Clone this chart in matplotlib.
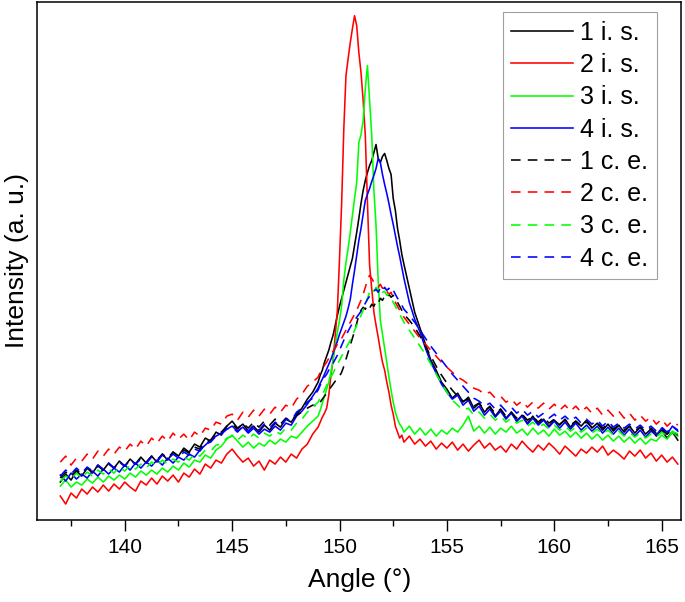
import numpy as np
import matplotlib
matplotlib.use("Agg")
import matplotlib.pyplot as plt
from matplotlib.ticker import MultipleLocator

plt.rcParams['font.family'] = ['Liberation Sans', 'DejaVu Sans']

# =========================
# DATA (intensity in arbitrary units)
# =========================
# sampling grid: coarse in the wings, finer around the peak
angle = np.round(np.concatenate([
    np.arange(137.0, 149.0, 0.25),
    np.arange(149.0, 153.0, 0.1),
    np.arange(153.0, 165.8, 0.25),
]), 2)

labels = ["1 i. s.", "2 i. s.", "3 i. s.", "4 i. s.",
          "1 c. e.", "2 c. e.", "3 c. e.", "4 c. e."]
colors = ["#000000", "#ff0000", "#00ff00", "#0000ff"] * 2

is1 = [38, 46, 40, 49, 44, 52, 47, 55, 50, 57, 52, 59, 54, 61, 56, 63, 57, 64, 58, 66,
       60, 68, 64, 72, 68, 76, 73, 82, 79, 88, 85, 94, 99, 92, 96, 89, 94, 88, 95, 90,
       97, 93, 101, 98, 106, 112, 121, 128,
       138, 145, 150, 158, 164, 170, 178, 185, 195, 205, 214, 222, 230, 238, 246, 254,
       262, 275, 288, 302, 317, 330, 340, 348, 355, 360, 368, 376, 362, 358, 364, 367,
       360, 352, 346, 322, 310, 292, 280, 266,
       256, 232, 208, 192, 176, 160, 150, 138, 131, 122, 127, 118, 123, 112, 117, 108,
       114, 104, 111, 102, 108, 99, 105, 97, 104, 96, 101, 94, 100, 95, 101, 93,
       99, 94, 100, 92, 97, 90, 96, 89, 95, 88, 94, 87, 93, 86, 91, 84, 90, 82, 88, 80]

is2 = [24, 16, 27, 22, 31, 26, 33, 28, 35, 29, 36, 31, 38, 33, 29, 39, 35, 42, 36, 44,
       39, 45, 38, 47, 43, 51, 46, 56, 52, 60, 57, 66, 71, 64, 58, 62, 54, 59, 50, 60,
       56, 63, 58, 66, 62, 71, 76, 86,
       93, 98, 103, 107, 112, 125, 145, 160, 185, 210, 262, 318, 392, 445, 462, 478,
       492, 505, 495, 468, 448, 420, 385, 318, 255, 232, 208, 195, 183, 170, 158, 150,
       138, 128, 115, 106, 94, 88, 82, 85,
       78, 84, 76, 81, 74, 79, 71, 77, 72, 78, 70, 76, 69, 75, 80, 72, 77, 70, 74, 68,
       76, 71, 79, 73, 68, 75, 70, 77, 72, 66, 74, 69, 64, 71, 67, 73, 68, 74, 65, 70,
       66, 61, 69, 64, 70, 62, 67, 59, 65, 58, 63, 56]

is3 = [34, 40, 33, 38, 35, 41, 37, 43, 38, 44, 40, 45, 41, 47, 43, 49, 45, 50, 46, 52,
       48, 54, 50, 57, 53, 60, 58, 65, 62, 70, 74, 81, 85, 79, 73, 78, 72, 77, 74, 80,
       76, 81, 78, 84, 82, 88, 94, 99,
       104, 110, 117, 124, 131, 138, 148, 160, 175, 188, 200, 215, 240, 258, 272, 288,
       305, 322, 338, 378, 386, 400, 432, 455, 420, 385, 330, 295, 240, 200, 186, 172,
       158, 143, 130, 118, 108, 101, 96, 93,
       88, 94, 86, 92, 85, 91, 84, 90, 86, 92, 88, 95, 104, 89, 94, 87, 93, 86, 92, 88,
       94, 87, 91, 85, 92, 86, 90, 84, 91, 85, 89, 83, 88, 82, 87, 81, 86, 80, 85, 79,
       84, 78, 83, 77, 82, 76, 81, 79, 85, 81, 88, 84]

is4 = [45, 39, 47, 41, 46, 42, 49, 44, 51, 46, 52, 48, 55, 50, 57, 52, 58, 54, 60, 55,
       62, 57, 63, 60, 66, 63, 70, 75, 80, 84, 87, 91, 94, 89, 93, 87, 92, 86, 91, 88,
       94, 90, 97, 95, 104, 109, 116, 124,
       132, 137, 141, 146, 151, 156, 161, 167, 173, 179, 186, 192, 198, 204, 212, 221,
       236, 250, 265, 280, 292, 306, 320, 326, 332, 339, 345, 352, 362, 358, 346, 336,
       327, 317, 306, 296, 285, 274, 264, 253,
       242, 218, 201, 188, 172, 158, 147, 136, 128, 121, 125, 115, 120, 109, 114, 105,
       111, 103, 109, 101, 107, 99, 104, 96, 102, 95, 100, 93, 99, 92, 98, 91,
       97, 90, 95, 89, 94, 87, 93, 86, 92, 85, 91, 84, 90, 83, 89, 85, 92, 86, 94, 89]

ce1 = [42, 48, 44, 50, 46, 52, 48, 54, 50, 56, 52, 58, 54, 60, 56, 62, 58, 64, 60, 66,
       62, 68, 64, 70, 67, 73, 71, 78, 80, 87, 88, 94, 96, 91, 97, 92, 98, 93, 99, 95,
       101, 96, 102, 99, 105, 108, 112, 115,
       114, 118, 121, 124, 127, 130, 133, 136, 139, 141, 144, 148, 154, 161, 168, 175,
       182, 189, 197, 205, 210, 213, 211, 215, 212, 216, 214, 219, 217, 222, 220, 224,
       222, 226, 223, 225, 221, 218, 214, 210,
       206, 200, 193, 184, 174, 164, 154, 145, 137, 130, 124, 119, 121, 114, 117, 110,
       113, 107, 111, 104, 108, 102, 106, 100, 104, 98, 103, 97, 101, 96, 100, 95,
       99, 94, 98, 93, 97, 92, 96, 91, 95, 90, 94, 89, 93, 88, 92, 87, 91, 86, 90, 85]

ce2 = [58, 64, 55, 62, 59, 66, 61, 69, 64, 71, 66, 73, 69, 76, 71, 79, 74, 82, 77, 84,
       79, 87, 81, 86, 80, 88, 84, 92, 90, 98, 96, 104, 106, 100, 108, 103, 110, 104, 111, 106,
       113, 108, 115, 112, 121, 126, 134, 138,
       143, 148, 151, 155, 158, 162, 165, 169, 172, 176, 179, 182, 186, 190, 194, 198,
       202, 206, 210, 215, 220, 226, 233, 240, 245, 242, 238, 236, 233, 236, 232, 234,
       229, 226, 228, 222, 218, 214, 210, 207,
       203, 196, 189, 182, 176, 170, 164, 158, 153, 148, 143, 140, 136, 132, 130, 126,
       128, 122, 124, 118, 121, 115, 119, 113, 118, 112, 117, 111, 116, 110, 115, 109,
       114, 108, 113, 107, 112, 105, 110, 104, 109, 102, 107, 100, 105, 99, 103, 96, 101, 94, 99, 95]

ce3 = [39, 44, 41, 47, 42, 48, 44, 50, 46, 51, 47, 53, 49, 55, 51, 56, 52, 58, 54, 60,
       56, 61, 58, 63, 60, 66, 64, 70, 69, 75, 76, 82, 84, 80, 85, 81, 86, 82, 87, 84,
       89, 86, 92, 90, 97, 101, 108, 113,
       118, 122, 126, 130, 135, 139, 143, 147, 152, 156, 160, 164, 168, 172, 176, 180,
       185, 190, 195, 200, 205, 210, 216, 222, 228, 232, 229, 233, 230, 232, 228, 229,
       225, 226, 222, 218, 214, 210, 206, 202,
       198, 190, 182, 174, 166, 156, 146, 137, 128, 120, 115, 110, 112, 105, 108, 102,
       106, 100, 104, 98, 102, 97, 100, 94, 98, 93, 96, 91, 95, 90, 94, 89,
       93, 88, 92, 87, 91, 86, 90, 85, 89, 84, 88, 83, 87, 82, 86, 83, 88, 84, 89, 86]

ce4 = [44, 50, 46, 52, 47, 53, 49, 55, 51, 57, 52, 58, 54, 60, 56, 61, 57, 63, 59, 65,
       61, 66, 62, 68, 65, 71, 69, 76, 78, 84, 86, 91, 93, 88, 94, 89, 95, 90, 96, 92,
       98, 94, 101, 99, 108, 112, 118, 122,
       130, 135, 139, 143, 146, 150, 154, 157, 161, 165, 170, 175, 180, 185, 189, 193,
       197, 200, 203, 206, 209, 213, 217, 221, 224, 226, 229, 231, 228, 232, 229, 233,
       230, 232, 228, 230, 226, 222, 219, 215,
       211, 205, 198, 190, 182, 174, 167, 160, 153, 146, 140, 134, 128, 122, 119, 114,
       117, 111, 115, 109, 113, 107, 111, 105, 109, 103, 107, 102, 106, 100, 104, 99,
       103, 97, 101, 96, 100, 94, 99, 93, 97, 92, 96, 91, 95, 90, 94, 89, 93, 88, 94, 90]

series = [is1, is2, is3, is4, ce1, ce2, ce3, ce4]
styles = ["solid"] * 4 + ["dashed"] * 4


# =========================
# PLOT
# =========================
fig = plt.figure(figsize=(6.85, 6.02), dpi=100)
ax = fig.add_axes([0.0545, 0.1362, 0.9397, 0.8610])

for y, lab, col, ls in zip(series, labels, colors, styles):
    line, = ax.plot(angle, y, color=col, lw=1.15, label=lab)
    if ls == "dashed":
        line.set_dashes((6, 4.5))

ax.set_xlim(135.93, 165.9)
ax.set_ylim(0, 519)
ax.set_yticks([])
ax.xaxis.set_major_locator(MultipleLocator(5))
ax.xaxis.set_minor_locator(MultipleLocator(2.5))
ax.tick_params(axis="x", which="major", direction="out", length=8, width=1.0,
               labelsize=15, pad=5)
ax.tick_params(axis="x", which="minor", direction="out", length=4, width=1.0)
for sp in ax.spines.values():
    sp.set_linewidth(1.1)

ax.set_xlabel("Angle (°)", fontsize=19, labelpad=8)
ax.set_ylabel("Intensity (a. u.)", fontsize=19, labelpad=6)

leg = ax.legend(loc="upper right", bbox_to_anchor=(0.9627, 0.980), borderaxespad=0,
                fontsize=18, frameon=True, fancybox=False, framealpha=1,
                handlelength=2.45, handletextpad=0.3, labelspacing=0.33,
                borderpad=0.35)
leg.get_frame().set_edgecolor("#a0a0a0")
leg.get_frame().set_linewidth(0.8)

fig.savefig("out.png", dpi=100)
